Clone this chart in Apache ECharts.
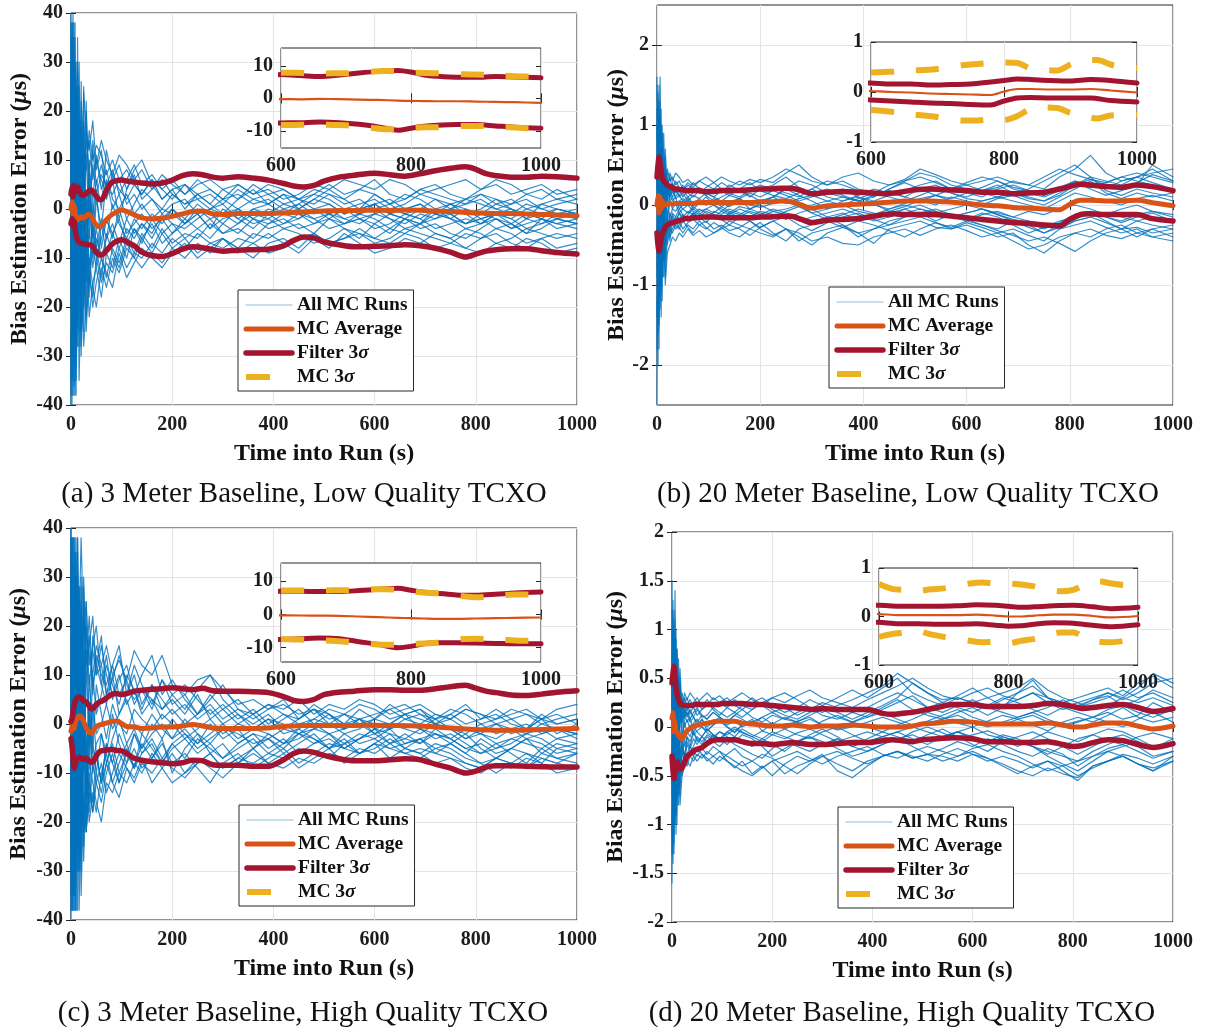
<!DOCTYPE html>
<html><head><meta charset="utf-8">
<script src="https://cdn.jsdelivr.net/npm/echarts@6/dist/echarts.min.js"></script>
<style>html,body{margin:0;padding:0;background:#fff}#c{width:1205px;height:1034px}</style>
</head><body><div id="c"></div><script>
// ---------- time grids ----------
const RUN_T = [0,2,4,6,8,10,13,16,20,25, 30,36,43,50,60,70,82,95,110,125, 140,160,180,200,225,250,275,300,330,360, 390,420,450,480,510,540,570,600,630,660, 690,720,750,780,810,840,870,900,930,960, 1000];
const CURVE_T = [0,2,4,6,8,10,13,16,20,25, 30,35,40,45,50,55,60,70,80,90, 100,110,125,140,160,180,200,220,240,260, 280,300,330,360,390,420,440,460,480,500, 530,560,600,630,660,690,720,750,780,800, 820,840,870,900,930,960,1000];
const MC_T = [600,620,640,660,680,700,720,740,760,780,800,820,840,860,880,900,920,940,960,980,1000];

// ---------- (a) 3 m, low quality ----------
const A_RUNS = [
 [40,-30,35,-20,28,-12,18,-8,14,4, 10,-2,9,3,7,5,8,3,6,9, 5,7,4,6,3,5,6,4,5,3, 4,2,3,5,4,6,5,4,6,5, 3,4,5,6,4,5,3,4,5,3, 4],
 [-40,32,-28,22,-18,15,-10,20,-6,12, -4,8,2,10,6,3,7,4,2,5, 3,6,2,4,5,2,3,1,4,2, 3,4,2,1,3,2,4,3,1,2, 4,3,2,1,3,2,1,3,2,4, 2],
 [20,35,-15,25,-25,10,-18,5,-12,15, -8,5,-10,2,-4,6,0,3,-2,1, 4,2,0,3,1,2,0,2,3,1, 2,0,1,3,2,0,1,2,0,1, 3,2,0,1,2,0,1,2,0,1, 2],
 [-25,-38,18,-30,12,-22,16,-25,4,-15, 3,-12,-4,-10,-6,-2,-5,-8,-4,-6, -3,-5,-1,-3,-4,-2,0,-1,-3,0, 1,-1,0,2,1,-1,0,1,2,0, 1,-1,0,2,1,0,-1,1,0,-1, 0],
 [5,28,-35,15,-20,24,-8,12,-22,8, -14,10,-6,4,-8,-2,-6,0,-5,-3, -1,-4,-2,-5,-3,-1,-4,-2,-1,-3, -2,0,-1,-3,-2,0,-1,1,-1,-2, 0,-1,1,0,-2,-1,0,-2,-1,0, -1],
 [-10,15,-25,35,-12,6,-28,14,-16,2, -18,-4,-12,-6,-10,-14,-8,-11,-6,-9, -5,-8,-4,-7,-5,-6,-3,-5,-4,-6, -3,-2,-4,-3,-1,-2,-3,-1,-2,-4, -3,-2,-1,-3,-2,-4,-3,-1,-2,-3, -2],
 [30,-10,20,-36,22,-28,8,-16,12,-20, 2,-15,-8,-12,-3,-9,-5,-2,-7,-4, -6,-3,-7,-5,-2,-4,-6,-3,-5,-2, -4,-3,-1,-2,-4,-3,-2,-4,-3,-1, -2,-4,-3,-2,-3,-1,-2,-4,-3,-2, -3],
 [-35,10,-20,5,-32,18,-24,2,-30,-6, -22,-14,-18,-10,-15,-11,-13,-8,-12,-9, -10,-7,-9,-6,-8,-5,-7,-6,-8,-5, -6,-4,-5,-7,-6,-4,-5,-6,-4,-5, -3,-5,-6,-4,-5,-7,-6,-4,-5,-6, -5],
 [15,-28,38,-8,30,-5,22,10,18,6, 14,8,12,5,9,4,3,6,1,3, 0,2,-1,1,2,-1,0,1,-2,0, -1,1,0,-2,-1,0,-2,-1,0,-1, -2,0,-1,-3,-2,-1,-2,0,-1,-2, -1],
 [-20,22,-10,12,-38,30,-15,25,-5,18, 10,14,6,11,4,8,2,0,3,-1, 1,-2,0,-1,-3,0,-2,-1,0,-2, -3,-1,-2,0,-1,-3,-2,-3,-1,-2, -3,-1,-2,-3,-1,-2,-4,-3,-2,-3, -4],
 [38,5,25,-28,10,-35,-20,-10,-25,-18, -8,-22,-15,-12,-18,-9,-12,-6,-10,-4, -7,-2,-5,-8,-6,-9,-7,-8,-6,-7, -9,-8,-6,-5,-7,-6,-4,-6,-7,-5, -6,-8,-7,-5,-6,-4,-5,-7,-6,-8, -7],
 [-38,-15,12,28,-5,20,30,-5,22,12, 8,16,10,13,11,7,10,6,8,5, 3,6,4,2,5,3,1,4,2,5, 3,1,2,4,3,1,2,0,1,3, 2,0,1,2,3,1,2,0,1,2, 1],
 [0,38,-30,10,15,-30,5,-35,-15,-28, -20,-10,-16,-20,-12,-16,-10,-13,-8,-10, -12,-9,-11,-8,-10,-7,-9,-6,-8,-10, -7,-6,-8,-5,-7,-6,-5,-7,-6,-4, -5,-6,-7,-8,-6,-5,-7,-8,-6,-5, -6],
 [25,-40,8,-20,35,-2,25,-12,16,-8, 20,4,-2,6,0,12,6,9,4,7, 2,4,6,3,1,3,4,2,0,2, 1,3,2,0,1,-1,0,1,-1,0, 1,-1,-2,0,-1,1,0,-1,-2,0, -1],
 [-5,25,-38,18,-28,12,-22,18,-10,8, -12,6,-4,-8,-2,-6,1,-3,-6,-2, -4,-1,-3,0,-2,1,-1,-3,0,-2, 0,-1,1,-1,0,-2,-1,0,-2,-3, -1,-2,0,-1,-3,-2,-4,-2,-3,-1, -2],
 [35,-18,5,30,-35,8,28,-15,10,-25, -5,-18,2,-8,-14,-5,-9,-12,-7,-10, -6,-9,-5,-3,-6,-4,-2,-5,-3,-1, -2,-4,-3,-5,-2,-4,-6,-3,-5,-2, -4,-3,-5,-6,-4,-2,-3,-5,-4,-2, -3],
 [-30,38,-5,-25,20,-15,35,-28,26,-18, 22,-6,14,8,12,2,6,-2,4,8, 10,5,2,4,0,3,1,-1,2,4, 1,3,0,2,4,2,0,3,1,-1, 0,2,1,-1,0,2,0,-2,1,0, -1],
 [10,-35,28,-38,5,25,-12,8,-28,3, -25,-12,-20,-15,-10,-13,-16,-9,-14,-11, -8,-10,-12,-9,-7,-10,-8,-6,-9,-7, -5,-7,-9,-6,-8,-5,-7,-9,-8,-6, -7,-5,-6,-8,-9,-7,-8,-6,-7,-9, -8],
 [-15,20,40,-12,38,-20,10,30,-2,24, 16,12,18,9,14,10,7,11,9,6, 8,4,7,5,3,6,4,2,5,3, 5,4,2,3,5,3,4,6,3,2, 4,5,3,2,4,6,5,3,4,2, 3],
 [28,8,-22,38,-15,-38,15,-5,-20,25, -15,2,-9,-4,-10,-6,-3,-7,-2,-5, -3,-6,-2,0,-3,-1,-4,0,-2,-4, -1,-3,-2,0,-2,-3,-1,-2,-4,-2, -3,0,-2,-4,-3,-1,-3,-5,-2,-4, -3]
];
const A_AVG = [0,1.5,-1.0,0.8,-0.5,-1.5,-2.2,-2.0,-1.6,-1.9, -1.4,-1.0,-1.5,-2.5,-3.2,-3.6,-3.4,-2.2,-1.2,-0.6, -0.2,-0.5,-1.2,-1.8,-2.0,-1.9,-1.5,-1.0,-0.5,-0.4, -1.0,-1.1,-0.9,-0.9,-0.9,-0.8,-0.7,-0.6,-0.5,-0.4, -0.3,-0.3,-0.25,-0.3,-0.2,-0.25,-0.4,-0.5,-0.7,-0.8, -0.85,-0.9,-0.9,-1.0,-1.1,-1.2,-1.4];
const A_FILT_UP = [3.0,4.5,2.5,4.8,3.5,4.2,4.5,3.8,3.0,2.8, 3.2,3.6,3.9,3.4,2.6,2.0,1.9,3.8,5.4,5.8, 5.9,5.7,5.5,5.3,5.1,5.3,5.9,6.8,7.2,7.0, 6.5,6.3,6.6,6.3,5.9,5.2,4.7,4.5,4.8,5.7, 6.5,6.9,7.3,7.0,6.7,7.2,7.8,8.3,8.6,8.1, 7.2,6.8,6.5,6.5,6.7,6.6,6.3];
const A_FILT_LO = [-3.0,-2.0,-3.5,-2.5,-4.0,-5.5,-6.3,-6.8,-7.0,-7.1, -7.2,-7.3,-7.4,-8.0,-8.8,-9.3,-9.4,-8.5,-7.3,-6.6, -6.3,-6.7,-7.5,-8.8,-9.5,-9.7,-9.1,-8.2,-7.7,-7.9, -8.3,-8.6,-8.4,-8.3,-8.2,-7.5,-6.4,-5.7,-5.9,-6.7, -7.3,-7.7,-7.6,-7.5,-7.3,-7.5,-8.0,-8.8,-9.8,-9.2, -8.6,-8.3,-8.1,-8.1,-8.5,-8.9,-9.2];
const A_MC_UP = [7.9,7.9,7.8,7.6,7.7,7.7,7.9,8.2,8.4,8.3,8.0,7.8,7.7,7.6,7.4,7.3,7.2,7.0,6.8,6.7,6.6];
const A_MC_LO = [-8.2,-8.2,-8.1,-8.1,-8.2,-8.3,-8.6,-9.1,-9.5,-9.5,-9.2,-8.9,-8.9,-8.7,-8.5,-8.5,-8.6,-8.8,-9.0,-9.2,-9.2];

// ---------- (b) 20 m, low quality ----------
const B_RUNS = [
 [1.6,-0.8,1.2,-0.5,0.9,0.3,0.6,0.2,0.45,0.3, 0.35,0.25,0.3,0.2,0.28,0.22,0.3,0.25,0.2,0.28, 0.22,0.3,0.25,0.32,0.28,0.4,0.5,0.35,0.25,0.3, 0.2,0.15,0.25,0.3,0.35,0.28,0.2,0.25,0.18,0.22, 0.3,0.25,0.2,0.35,0.45,0.62,0.4,0.3,0.35,0.45, 0.3],
 [-2.5,1.2,-1.4,0.8,-0.9,0.5,-0.6,0.3,-0.35,-0.1, -0.25,-0.15,-0.2,-0.3,-0.22,-0.18,-0.25,-0.3,-0.22,-0.28, -0.2,-0.25,-0.3,-0.22,-0.35,-0.45,-0.3,-0.25,-0.2,-0.28, -0.35,-0.3,-0.25,-0.2,-0.15,-0.22,-0.3,-0.25,-0.32,-0.4, -0.35,-0.5,-0.6,-0.45,-0.35,-0.4,-0.3,-0.25,-0.35,-0.3, -0.4],
 [0.8,1.4,-1.0,1.0,-0.4,0.7,-0.3,0.4,0.1,0.25, 0.15,0.2,0.1,0.15,0.05,0.12,0.08,0.15,0.1,0.05, 0.12,0.08,0.15,0.1,0.18,0.12,0.05,0.1,0.15,0.2, 0.1,0.05,0.12,0.18,0.25,0.3,0.2,0.15,0.1,0.2, 0.25,0.18,0.12,0.2,0.3,0.25,0.2,0.3,0.35,0.28, 0.2],
 [-1.2,-2.0,0.9,-1.1,0.6,-0.7,0.3,-0.5,-0.2,-0.3, -0.12,-0.2,-0.1,-0.15,-0.08,-0.12,-0.05,-0.1,-0.15,-0.08, -0.12,-0.05,-0.1,-0.15,-0.08,-0.12,-0.2,-0.15,-0.1,-0.05, -0.12,-0.2,-0.15,-0.1,-0.05,-0.1,-0.15,-0.2,-0.12,-0.08, -0.15,-0.2,-0.25,-0.3,-0.2,-0.15,-0.1,-0.15,-0.2,-0.25, -0.3],
 [0.3,0.9,1.5,-0.6,1.0,-0.3,0.5,-0.1,0.3,0.1, 0.18,0.08,0.12,0.05,0.1,0.02,0.08,0.0,0.05,-0.02, 0.04,0.08,0.0,0.05,0.1,0.02,0.08,0.12,0.05,0.0, 0.08,0.15,0.1,0.05,0.12,0.2,0.15,0.08,0.05,0.1, 0.15,0.08,0.05,0.12,0.25,0.35,0.18,0.12,0.2,0.15, 0.1],
 [-0.6,0.4,-1.8,0.3,-1.0,0.2,-0.7,-0.2,-0.5,-0.3, -0.35,-0.25,-0.3,-0.2,-0.28,-0.35,-0.25,-0.2,-0.3,-0.25, -0.32,-0.28,-0.2,-0.3,-0.38,-0.3,-0.45,-0.35,-0.3,-0.25, -0.35,-0.48,-0.3,-0.25,-0.2,-0.28,-0.3,-0.22,-0.28,-0.35, -0.3,-0.38,-0.45,-0.3,-0.25,-0.2,-0.28,-0.35,-0.3,-0.4, -0.35],
 [1.2,-1.5,0.6,0.8,-0.8,1.0,0.2,0.5,0.25,0.35, 0.2,0.3,0.22,0.18,0.25,0.2,0.15,0.22,0.28,0.2, 0.15,0.1,0.18,0.25,0.2,0.15,0.1,0.2,0.3,0.25, 0.18,0.1,0.2,0.3,0.4,0.35,0.25,0.2,0.15,0.1, 0.15,0.2,0.3,0.4,0.5,0.35,0.3,0.25,0.35,0.4, 0.45],
 [-1.8,0.2,0.5,-1.3,0.2,-0.9,-0.4,-0.6,-0.3,-0.45, -0.2,-0.3,-0.25,-0.12,-0.18,-0.1,-0.15,-0.08,-0.12,-0.18, -0.1,-0.15,-0.08,-0.12,-0.05,-0.1,-0.15,-0.22,-0.15,-0.1, -0.2,-0.15,-0.1,-0.05,-0.12,-0.08,-0.15,-0.1,-0.05,-0.12, -0.2,-0.28,-0.35,-0.25,-0.18,-0.1,-0.15,-0.22,-0.15,-0.1, -0.2],
 [0.5,1.0,-0.5,1.6,0.4,0.9,0.5,0.2,0.3,0.15, 0.22,0.1,0.18,0.25,0.15,0.1,0.18,0.12,0.05,0.1, 0.15,0.2,0.12,0.05,0.1,0.2,0.3,0.25,0.15,0.1, 0.05,0.1,0.2,0.28,0.2,0.12,0.08,0.15,0.22,0.3, 0.2,0.15,0.1,0.18,0.28,0.2,0.12,0.18,0.25,0.5, 0.35],
 [-0.9,-0.2,-1.2,-0.5,-1.4,-0.3,-0.9,-0.4,-0.2,-0.35, -0.15,-0.25,-0.1,-0.2,-0.12,-0.05,-0.1,-0.18,-0.08,-0.12, -0.05,-0.1,-0.15,-0.08,-0.12,-0.18,-0.1,-0.05,-0.15,-0.25, -0.4,-0.3,-0.2,-0.15,-0.1,-0.05,-0.12,-0.18,-0.1,-0.15, -0.25,-0.35,-0.28,-0.2,-0.15,-0.1,-0.2,-0.3,-0.4,-0.3, -0.25],
 [1.5,0.6,0.2,1.1,-0.2,0.4,0.9,0.1,0.4,0.05, 0.1,0.0,0.05,0.08,0.02,-0.02,0.05,0.0,0.08,0.03, -0.02,0.05,0.0,-0.03,0.02,0.05,-0.02,0.0,0.05,0.1, 0.05,0.0,-0.05,0.02,0.08,0.12,0.05,0.0,0.05,0.1, 0.05,0.0,-0.05,0.05,0.15,0.1,0.05,0.0,0.08,0.12, 0.05],
 [-0.3,-1.0,0.3,-0.8,0.5,-1.2,0.1,-0.9,-0.4,-0.15, -0.05,-0.08,0.0,-0.05,-0.1,-0.02,-0.08,-0.05,0.0,-0.05, -0.1,-0.02,-0.05,0.0,-0.08,-0.05,0.0,-0.1,-0.05,0.0, -0.08,-0.12,-0.05,0.0,-0.05,-0.1,-0.05,0.0,-0.05,-0.1, -0.15,-0.08,-0.12,-0.05,0.0,-0.05,-0.12,-0.05,0.0,-0.08, -0.12],
 [0.0,1.1,-0.7,0.5,1.2,-0.5,0.4,0.7,0.15,0.4, 0.3,0.4,0.35,0.28,0.32,0.25,0.3,0.35,0.28,0.35, 0.3,0.25,0.32,0.28,0.35,0.45,0.38,0.3,0.25,0.35, 0.4,0.3,0.25,0.32,0.45,0.38,0.3,0.25,0.3,0.35, 0.28,0.25,0.35,0.45,0.38,0.32,0.28,0.35,0.4,0.35, 0.28],
 [-1.4,0.8,-0.3,-0.2,-0.6,0.6,-0.2,-1.0,-0.6,-0.5, -0.4,-0.45,-0.35,-0.4,-0.3,-0.38,-0.32,-0.4,-0.35,-0.28, -0.35,-0.4,-0.3,-0.35,-0.4,-0.3,-0.35,-0.45,-0.4,-0.48, -0.5,-0.4,-0.35,-0.3,-0.38,-0.3,-0.25,-0.32,-0.4,-0.35, -0.45,-0.55,-0.5,-0.4,-0.35,-0.3,-0.38,-0.42,-0.35,-0.4, -0.45],
 [-0.8,1.3,-0.4,0.9,-1.1,0.5,-0.3,0.6,-0.2,0.15, 0.05,0.1,-0.05,0.0,0.08,-0.05,0.02,0.1,0.0,-0.08, 0.0,0.08,-0.05,0.02,0.1,0.2,0.12,0.05,-0.05,0.05, 0.1,0.02,-0.08,-0.02,0.06,0.0,0.1,0.05,0.0,0.08, 0.12,0.05,0.0,0.1,0.2,0.3,0.15,0.08,0.15,0.1, 0.15],
 [1.0,-1.6,0.7,-0.3,0.4,-0.8,0.5,-0.3,0.2,-0.25, -0.1,-0.15,-0.05,-0.12,-0.2,-0.1,-0.15,-0.22,-0.12,-0.18, -0.25,-0.15,-0.2,-0.28,-0.2,-0.15,-0.25,-0.32,-0.22,-0.15, -0.1,-0.18,-0.25,-0.15,-0.1,-0.2,-0.12,-0.18,-0.25,-0.3, -0.2,-0.25,-0.35,-0.28,-0.2,-0.15,-0.22,-0.3,-0.2,-0.15, -0.22],
 [-0.5,0.5,1.1,-1.2,0.8,0.1,-0.5,0.3,0.2,0.1, 0.28,0.15,0.22,0.1,0.18,0.28,0.2,0.12,0.2,0.15, 0.25,0.18,0.1,0.2,0.25,0.35,0.22,0.15,0.2,0.12, 0.05,0.12,0.18,0.1,0.2,0.25,0.15,0.1,0.18,0.25, 0.15,0.1,0.05,0.15,0.25,0.32,0.25,0.2,0.28,0.38, 0.3],
 [0.6,-0.4,-1.5,0.6,-0.3,-0.9,0.2,-0.7,-0.1,-0.4, -0.3,-0.2,-0.28,-0.35,-0.25,-0.3,-0.2,-0.28,-0.35,-0.3, -0.25,-0.3,-0.38,-0.28,-0.2,-0.3,-0.4,-0.5,-0.35,-0.28, -0.2,-0.25,-0.32,-0.4,-0.3,-0.22,-0.28,-0.2,-0.25,-0.32, -0.38,-0.45,-0.4,-0.48,-0.58,-0.45,-0.35,-0.3,-0.28,-0.35, -0.3],
 [0.2,0.7,-0.9,1.3,-0.6,0.6,-0.4,0.3,0.05,0.2, 0.1,0.18,0.12,0.2,0.1,0.15,0.22,0.15,0.1,0.18, 0.12,0.2,0.28,0.18,0.12,0.08,0.15,0.2,0.1,0.05, 0.12,0.2,0.15,0.1,0.05,0.12,0.2,0.28,0.35,0.3, 0.22,0.18,0.12,0.22,0.3,0.22,0.28,0.35,0.3,0.25, 0.2],
 [-0.4,-0.9,0.6,-0.4,0.9,-0.5,0.3,-0.2,-0.15,0.05, -0.05,0.02,-0.1,-0.05,0.0,-0.08,-0.12,-0.05,-0.1,-0.02, -0.08,-0.12,-0.05,-0.1,-0.15,-0.08,-0.02,-0.1,-0.18,-0.12, -0.05,-0.1,-0.15,-0.05,0.0,-0.08,-0.15,-0.1,-0.05,-0.12, -0.18,-0.22,-0.3,-0.22,-0.12,-0.08,-0.15,-0.2,-0.12,-0.08, -0.15]
];
const B_AVG = [0.0,0.12,-0.1,0.1,-0.05,0.05,0.0,0.0,0.01,0.02, 0.01,0.02,0.02,0.02,0.02,0.02,0.02,0.02,0.03,0.03, 0.03,0.03,0.03,0.03,0.03,0.03,0.04,0.04,0.05,0.04, 0.0,-0.04,-0.01,0.0,0.01,0.02,0.03,0.04,0.05,0.05, 0.05,0.04,0.02,0.0,-0.01,-0.03,-0.04,-0.05,-0.06,0.01, 0.06,0.06,0.05,0.05,0.06,0.03,-0.01];
const B_FILT_UP = [0.35,0.5,0.6,0.5,0.42,0.35,0.3,0.28,0.25,0.23, 0.22,0.2,0.2,0.19,0.19,0.18,0.18,0.18,0.18,0.17, 0.17,0.17,0.18,0.18,0.18,0.19,0.2,0.2,0.21,0.21, 0.18,0.14,0.16,0.17,0.16,0.15,0.14,0.15,0.17,0.19, 0.2,0.19,0.18,0.16,0.16,0.14,0.15,0.16,0.2,0.23, 0.26,0.25,0.23,0.22,0.25,0.23,0.18];
const B_FILT_LO = [-0.35,-0.5,-0.58,-0.5,-0.42,-0.36,-0.32,-0.28,-0.25,-0.23, -0.22,-0.21,-0.2,-0.19,-0.18,-0.17,-0.17,-0.16,-0.16,-0.15, -0.15,-0.15,-0.16,-0.16,-0.16,-0.16,-0.15,-0.15,-0.14,-0.14, -0.18,-0.22,-0.19,-0.18,-0.17,-0.14,-0.12,-0.11,-0.12,-0.12, -0.12,-0.13,-0.16,-0.18,-0.2,-0.22,-0.23,-0.25,-0.26,-0.18, -0.12,-0.11,-0.12,-0.12,-0.12,-0.17,-0.2];
const B_MC_UP = [0.39,0.4,0.41,0.43,0.44,0.46,0.5,0.54,0.56,0.58,0.59,0.58,0.47,0.44,0.43,0.55,0.64,0.64,0.55,0.49,0.48];
const B_MC_LO = [-0.36,-0.38,-0.41,-0.45,-0.47,-0.5,-0.55,-0.57,-0.57,-0.55,-0.56,-0.48,-0.34,-0.31,-0.32,-0.42,-0.48,-0.53,-0.47,-0.46,-0.46];

// ---------- (c) 3 m, high quality ----------
const C_RUNS = [
 [40,-25,38,-10,30,-20,38,12,25,5, 20,8,15,10,12,16,10,13,9,15, 12,10,14,8,6,9,10,7,4,5, 3,4,2,3,1,2,4,3,1,2, 3,1,2,0,1,2,0,-1,1,0, 1],
 [-40,30,-25,20,-38,15,-30,-8,-35,-15, -22,-10,-18,-12,-8,-14,-10,-6,-9,-12, -8,-10,-7,-9,-11,-8,-6,-9,-7,-8, -6,-7,-5,-6,-4,-5,-6,-4,-5,-6, -7,-5,-6,-8,-9,-7,-8,-6,-7,-8, -9],
 [25,38,-15,30,-8,35,10,28,15,22, 12,18,6,14,10,8,12,6,9,4, 7,5,3,6,8,5,2,4,1,3, 0,2,1,3,2,0,1,2,3,1, 0,2,1,3,2,0,1,2,0,1, 2],
 [-30,-10,20,-35,18,-25,5,-38,-10,-25, -5,-18,-8,-12,-16,-10,-6,-12,-8,-5, -9,-7,-4,-8,-6,-9,-12,-8,-6,-9, -7,-5,-8,-6,-7,-4,-6,-5,-3,-5, -6,-4,-5,-7,-8,-10,-8,-9,-7,-8, -6],
 [10,-38,28,5,-20,30,-15,18,-28,10, -12,4,-6,8,2,-3,4,0,-2,3, 1,-1,2,0,-3,-1,1,-2,0,-1, 1,-2,-1,1,0,-1,1,0,-1,1, 2,0,1,-1,-2,0,-1,-3,-2,-1, -2],
 [-15,20,-38,25,10,-30,22,-12,30,-5, 15,-8,10,2,6,12,8,4,10,7, 3,8,5,2,4,1,3,0,2,-1, 1,0,-2,-1,0,-2,-1,1,0,-1, -2,0,-1,-3,-2,-4,-3,-2,-1,-3, -2],
 [35,10,-30,15,-35,20,-10,25,-18,15, -22,-12,-16,-6,-12,-8,-4,-10,-6,-2, -6,-4,-8,-5,-3,-6,-4,-7,-5,-3, -6,-4,-2,-4,-3,-5,-3,-2,-4,-3, -1,-3,-2,-4,-6,-5,-3,-4,-5,-3, -4],
 [-38,25,5,-20,35,-5,18,-22,5,-28, -10,-20,-14,-18,-10,-6,-12,-8,-4,-9, -6,-3,-7,-4,-2,-5,-3,-1,-4,-2, -3,-1,-2,0,-2,-1,0,-2,-1,0, -1,-2,-3,-1,-2,-3,-1,-2,0,-1, -2],
 [18,-30,30,-38,25,-15,35,5,20,-10, 8,16,22,10,16,10,6,10,4,7, 2,5,1,3,0,2,4,1,3,2, 4,2,0,1,3,2,0,1,3,4, 2,1,3,2,0,1,2,3,1,2, 0],
 [-25,15,-35,38,-28,5,-25,10,-20,12, -6,2,-8,-4,-2,-8,-3,1,-4,-1, -5,-2,0,-3,-1,-4,-2,0,-3,-1, -2,-4,-3,-1,-2,-4,-3,-1,-2,-3, -4,-2,-3,-5,-4,-6,-5,-3,-4,-6, -5],
 [40,-5,10,-25,38,-38,8,-30,-12,-22, -18,-8,-12,-16,-20,-12,-14,-10,-12,-8, -10,-6,-9,-12,-10,-7,-9,-11,-8,-6, -8,-9,-7,-8,-6,-7,-5,-6,-4,-6, -5,-6,-7,-8,-9,-7,-8,-9,-6,-7, -8],
 [-10,38,-20,12,-15,25,30,20,38,18, 25,12,16,20,8,14,5,9,12,6, 10,14,6,9,5,2,6,3,5,2, 4,3,5,2,4,3,5,4,2,3, 4,2,1,3,2,1,3,2,1,3, 4],
 [5,-18,15,-30,5,12,-38,0,-25,2, -15,-5,4,-2,0,4,-1,2,5,0, -2,2,-1,-3,1,-2,-4,-1,-2,-4, -3,-5,-2,-3,-5,-4,-2,-3,-5,-4, -3,-5,-4,-6,-8,-7,-5,-6,-8,-5, -6],
 [30,-38,22,8,-10,-20,15,-18,2,30, 12,22,8,12,18,6,12,16,6,12, 8,4,9,6,3,7,10,5,2,0, 2,-1,1,3,0,2,1,-1,0,2, 1,0,-1,-2,0,-2,-1,0,-2,-1, -3],
 [-5,30,-38,15,-25,38,-12,20,-8,28, -14,10,-4,-10,-2,-6,2,-4,-8,-2, -5,0,-3,1,-2,-4,0,-3,-1,-5, -2,-4,-1,-3,-5,-2,-4,-3,-1,-4, -3,-2,-4,-6,-3,-5,-4,-2,-3,-5, -4],
 [38,-20,5,32,-38,10,25,-30,12,-22, -2,-16,3,-6,-12,-4,-8,-12,-5,-9, -4,-7,-3,-10,-5,-2,-6,-4,-8,-5, -3,-6,-4,-2,-5,-3,-6,-4,-2,-5, -3,-6,-4,-2,-5,-7,-5,-3,-6,-4, -5],
 [-35,38,-8,-28,22,-12,38,-25,28,-15, 25,-4,18,12,8,4,10,2,6,10, 4,8,3,5,2,6,1,3,0,2, -1,1,3,0,2,-1,1,-2,0,2, -1,1,-1,-3,-1,0,-2,-1,1,-2, 0],
 [12,-38,30,-35,8,28,-15,10,-30,5, -22,-14,-18,-10,-14,-8,-12,-15,-9,-11, -7,-12,-9,-6,-10,-8,-6,-9,-7,-5, -8,-6,-9,-7,-5,-8,-6,-4,-7,-5, -6,-8,-7,-9,-10,-8,-9,-7,-8,-10, -9],
 [-18,22,38,-10,35,-22,12,28,0,25, 18,14,10,16,12,6,9,14,8,5, 7,3,9,4,6,2,5,8,3,1, 3,5,1,4,2,0,3,1,4,2, 3,0,2,4,1,3,1,-1,2,0, 1],
 [30,10,-25,38,-18,-38,12,-8,-22,20, -18,0,-10,-6,-12,-4,-8,-2,-6,-9, -2,-5,-8,-4,-7,-3,-5,-7,-4,-2, -5,-3,-6,-4,-2,-5,-3,-1,-4,-2, -4,-1,-3,-5,-6,-4,-6,-8,-5,-7, -6]
];
const C_AVG = [-1.5,-0.5,0.5,-1.0,0.2,0.8,1.2,1.7,1.5,0.5, -0.8,-1.6,-1.9,-1.2,-0.5,-0.2,-0.1,0.2,0.5,0.6, 0.1,-0.5,-0.6,-0.9,-0.8,-0.6,-0.6,-0.4,-0.1,-0.4, -0.8,-0.9,-0.9,-0.9,-0.8,-0.5,-0.4,-0.3,-0.3,-0.3, -0.3,-0.3,-0.25,-0.3,-0.35,-0.4,-0.6,-0.8,-1.0,-1.1, -1.2,-1.3,-1.3,-1.2,-1.1,-1.0,-0.9];
const C_FILT_UP = [0.5,1.0,2.5,3.8,4.5,5.0,5.4,5.5,5.3,4.7, 4.5,3.8,3.1,3.3,4.0,4.4,4.6,5.3,6.0,6.2, 6.0,6.2,6.7,6.9,7.1,7.2,7.4,7.2,7.0,7.3, 6.8,6.7,6.7,6.6,6.4,5.6,4.8,4.6,5.0,6.0, 6.5,6.7,7.0,7.0,6.9,6.9,7.2,7.6,7.9,7.3, 6.7,6.4,5.9,5.8,6.1,6.5,6.8];
const C_FILT_LO = [-3.0,-4.5,-7.0,-9.0,-8.5,-7.5,-7.0,-6.8,-7.0,-7.2, -7.0,-7.5,-7.8,-7.5,-6.5,-5.8,-5.5,-5.3,-5.2,-5.4, -5.5,-6.0,-7.0,-7.4,-7.7,-7.9,-8.1,-7.9,-7.4,-7.5, -8.3,-8.4,-8.4,-8.6,-8.6,-7.3,-6.0,-5.5,-5.8,-6.4, -7.1,-7.5,-7.5,-7.3,-7.1,-7.3,-8.2,-9.0,-10.0,-9.6, -8.8,-8.5,-8.5,-8.6,-8.7,-8.8,-8.8];
const C_MC_UP = [7.2,7.2,7.2,7.2,7.3,7.3,7.4,7.6,7.6,7.4,7.0,6.6,6.4,6.0,5.5,5.2,5.4,5.8,6.0,6.0,6.0];
const C_MC_LO = [-7.4,-7.5,-7.6,-7.8,-7.9,-8.2,-8.6,-8.9,-9.1,-9.1,-8.9,-8.7,-8.5,-8.0,-7.4,-7.3,-7.4,-7.6,-7.8,-7.9,-7.8];

// ---------- (d) 20 m, high quality ----------
const D_RUNS = [
 [1.5,-0.9,1.0,-0.4,0.7,0.2,0.5,0.15,0.35,0.25, 0.3,0.2,0.25,0.3,0.22,0.28,0.2,0.25,0.3,0.22, 0.18,0.25,0.3,0.22,0.15,0.2,0.28,0.22,0.3,0.38, 0.3,0.4,0.5,0.35,0.28,0.22,0.3,0.25,0.2,0.28, 0.35,0.42,0.3,0.25,0.2,0.28,0.35,0.3,0.4,0.55, 0.45],
 [-1.6,1.0,-1.1,0.6,-0.8,0.3,-0.6,-0.2,-0.4,-0.3, -0.35,-0.25,-0.3,-0.22,-0.28,-0.35,-0.3,-0.25,-0.35,-0.42, -0.35,-0.48,-0.4,-0.5,-0.38,-0.3,-0.35,-0.28,-0.45,-0.52, -0.4,-0.3,-0.25,-0.32,-0.28,-0.35,-0.3,-0.25,-0.32,-0.4, -0.48,-0.4,-0.35,-0.45,-0.55,-0.4,-0.35,-0.3,-0.38,-0.45, -0.35],
 [0.6,1.3,-0.5,0.9,-0.3,0.6,0.0,0.35,0.1,0.2, 0.12,0.18,0.1,0.05,0.12,0.08,0.15,0.1,0.05,0.12, 0.08,0.02,0.1,0.15,0.08,0.05,0.12,0.18,0.1,0.05, 0.12,0.2,0.28,0.18,0.12,0.08,0.15,0.2,0.12,0.2, 0.35,0.48,0.3,0.2,0.15,0.1,0.18,0.22,0.15,0.1, 0.18],
 [-0.9,-1.4,0.7,-0.9,0.4,-0.6,0.2,-0.45,-0.2,-0.3, -0.15,-0.22,-0.12,-0.18,-0.1,-0.15,-0.08,-0.12,-0.18,-0.1, -0.15,-0.2,-0.12,-0.18,-0.25,-0.15,-0.1,-0.18,-0.12,-0.2, -0.15,-0.1,-0.05,-0.12,-0.18,-0.1,-0.05,-0.12,-0.18,-0.1, -0.15,-0.2,-0.25,-0.3,-0.35,-0.25,-0.18,-0.12,-0.2,-0.3, -0.25],
 [0.2,0.8,1.2,-0.5,0.9,-0.2,0.5,0.0,0.25,0.1, 0.15,0.05,0.1,0.02,0.08,0.0,0.05,0.1,0.02,0.06, 0.0,0.05,0.1,0.03,0.0,0.06,0.1,0.02,-0.02,0.05, 0.1,0.15,0.08,0.02,0.06,0.12,0.18,0.1,0.05,0.02, 0.08,0.12,0.05,0.0,0.05,0.1,0.15,0.08,0.12,0.25, 0.15],
 [-0.4,0.3,-1.3,0.2,-0.9,0.1,-0.7,-0.3,-0.5,-0.35, -0.4,-0.3,-0.35,-0.28,-0.32,-0.25,-0.3,-0.35,-0.28,-0.22, -0.3,-0.35,-0.42,-0.35,-0.3,-0.25,-0.32,-0.38,-0.3,-0.25, -0.2,-0.28,-0.32,-0.25,-0.2,-0.25,-0.3,-0.22,-0.18,-0.25, -0.3,-0.38,-0.45,-0.4,-0.35,-0.3,-0.25,-0.3,-0.38,-0.45, -0.3],
 [1.0,-1.2,0.5,0.7,-0.6,0.8,0.1,0.45,0.2,0.3, 0.22,0.28,0.2,0.25,0.18,0.22,0.3,0.25,0.2,0.28, 0.22,0.18,0.25,0.3,0.35,0.28,0.2,0.15,0.22,0.28, 0.35,0.42,0.55,0.45,0.35,0.28,0.3,0.25,0.3,0.35, 0.4,0.5,0.38,0.3,0.25,0.3,0.35,0.28,0.35,0.45, 0.5],
 [-1.3,0.1,0.4,-1.0,0.1,-0.7,-0.3,-0.5,-0.25,-0.35, -0.18,-0.25,-0.2,-0.1,-0.15,-0.08,-0.12,-0.05,-0.1,-0.15, -0.08,-0.12,-0.2,-0.3,-0.22,-0.15,-0.1,-0.15,-0.22,-0.3, -0.25,-0.18,-0.12,-0.08,-0.15,-0.1,-0.05,-0.1,-0.15,-0.08, -0.12,-0.2,-0.3,-0.38,-0.45,-0.35,-0.25,-0.2,-0.15,-0.22, -0.18],
 [0.4,0.9,-0.4,1.4,0.3,0.8,0.4,0.15,0.3,0.12, 0.2,0.08,0.15,0.2,0.12,0.08,0.15,0.1,0.05,0.12, 0.18,0.1,0.05,0.12,0.08,0.15,0.2,0.12,0.08,0.15, 0.1,0.18,0.25,0.32,0.2,0.15,0.22,0.28,0.2,0.15, 0.1,0.15,0.2,0.28,0.2,0.25,0.3,0.38,0.3,0.35, 0.25],
 [-0.7,-0.1,-1.0,-0.4,-1.1,-0.2,-0.8,-0.3,-0.15,-0.3, -0.1,-0.2,-0.05,-0.15,-0.1,-0.02,-0.08,-0.15,-0.05,-0.1, -0.02,-0.08,-0.12,-0.05,-0.1,-0.15,-0.08,-0.02,-0.1,-0.2, -0.12,-0.05,-0.1,-0.15,-0.08,-0.02,-0.1,-0.18,-0.25,-0.15, -0.1,-0.05,-0.12,-0.2,-0.28,-0.2,-0.12,-0.08,-0.15,-0.22, -0.12],
 [1.2,0.5,0.1,0.9,-0.2,0.3,0.7,0.05,0.3,0.0, 0.08,-0.02,0.04,0.08,0.0,-0.04,0.02,0.06,0.0,-0.05, 0.02,0.06,0.0,0.04,-0.02,0.03,0.08,0.02,-0.03,0.0, 0.05,0.1,0.05,0.0,0.04,0.08,0.12,0.05,0.0,0.05, 0.1,0.15,0.08,0.02,0.06,0.1,0.05,0.0,0.08,0.15, 0.05],
 [-0.2,-0.8,0.2,-0.6,0.4,-1.0,0.1,-0.7,-0.3,-0.12, -0.05,-0.1,0.0,-0.05,-0.1,-0.02,-0.08,-0.12,-0.05,0.0, -0.05,-0.1,-0.15,-0.08,-0.02,-0.08,-0.12,-0.05,0.0,-0.08, -0.15,-0.1,-0.05,0.0,-0.05,-0.1,-0.05,0.0,-0.08,-0.12, -0.2,-0.12,-0.05,-0.1,-0.15,-0.08,-0.02,-0.05,-0.12,-0.2, -0.15],
 [0.1,0.9,-0.6,0.4,1.0,-0.4,0.3,0.6,0.15,0.35, 0.28,0.35,0.3,0.25,0.3,0.35,0.28,0.32,0.25,0.3, 0.35,0.28,0.22,0.3,0.25,0.32,0.38,0.3,0.25,0.2, 0.28,0.35,0.42,0.5,0.4,0.32,0.28,0.35,0.4,0.32, 0.28,0.35,0.3,0.25,0.3,0.35,0.4,0.32,0.45,0.52, 0.4],
 [-1.1,0.6,-0.2,-0.3,-0.5,0.4,-0.3,-0.8,-0.5,-0.4, -0.35,-0.4,-0.3,-0.35,-0.28,-0.32,-0.38,-0.3,-0.35,-0.4, -0.45,-0.5,-0.42,-0.35,-0.48,-0.4,-0.35,-0.3,-0.38,-0.45, -0.35,-0.3,-0.25,-0.32,-0.28,-0.3,-0.35,-0.28,-0.32,-0.38, -0.45,-0.5,-0.42,-0.48,-0.52,-0.4,-0.35,-0.3,-0.38,-0.42, -0.35],
 [-0.6,1.1,-0.3,0.7,-0.9,0.4,-0.2,0.5,-0.15,0.12, 0.05,0.1,-0.05,0.0,0.08,-0.04,0.02,0.08,0.0,-0.06, 0.02,0.08,-0.04,0.03,0.1,0.05,-0.02,0.06,0.12,0.05, 0.0,-0.05,0.02,0.08,0.15,0.1,0.04,0.0,0.06,0.12, 0.08,0.02,-0.04,0.05,0.1,0.05,0.12,0.2,0.1,0.05, 0.1],
 [0.8,-1.3,0.6,-0.2,0.3,-0.7,0.4,-0.25,0.15,-0.2, -0.1,-0.15,-0.05,-0.12,-0.18,-0.1,-0.15,-0.2,-0.12,-0.18, -0.22,-0.28,-0.32,-0.22,-0.15,-0.2,-0.25,-0.18,-0.12,-0.2, -0.25,-0.18,-0.12,-0.2,-0.28,-0.22,-0.15,-0.2,-0.12,-0.18, -0.25,-0.3,-0.22,-0.28,-0.4,-0.3,-0.22,-0.18,-0.25,-0.32, -0.25],
 [-0.4,0.4,0.9,-1.0,0.6,0.1,-0.4,0.25,0.15,0.1, 0.22,0.15,0.2,0.12,0.18,0.25,0.18,0.12,0.2,0.15, 0.22,0.3,0.22,0.15,0.2,0.12,0.18,0.25,0.2,0.15, 0.2,0.28,0.35,0.28,0.2,0.25,0.32,0.4,0.3,0.22, 0.28,0.35,0.25,0.18,0.22,0.28,0.32,0.22,0.28,0.38, 0.3],
 [0.5,-0.3,-1.2,0.5,-0.2,-0.8,0.2,-0.6,-0.1,-0.35, -0.28,-0.2,-0.25,-0.3,-0.22,-0.28,-0.2,-0.25,-0.3,-0.35, -0.4,-0.35,-0.28,-0.32,-0.4,-0.48,-0.38,-0.3,-0.25,-0.32, -0.38,-0.3,-0.25,-0.3,-0.35,-0.28,-0.22,-0.28,-0.35,-0.3, -0.35,-0.42,-0.35,-0.4,-0.5,-0.42,-0.35,-0.28,-0.32,-0.38, -0.3],
 [0.2,0.6,-0.7,1.1,-0.5,0.5,-0.3,0.3,0.05,0.18, 0.1,0.15,0.1,0.18,0.1,0.12,0.2,0.15,0.1,0.15, 0.1,0.18,0.25,0.18,0.12,0.08,0.15,0.22,0.15,0.08, 0.15,0.22,0.3,0.45,0.35,0.25,0.2,0.15,0.22,0.3, 0.25,0.18,0.12,0.2,0.25,0.18,0.22,0.3,0.25,0.3, 0.22],
 [-0.3,-0.7,0.5,-0.3,0.7,-0.4,0.2,-0.15,-0.12,0.04, -0.05,0.02,-0.08,-0.04,0.0,-0.06,-0.1,-0.05,-0.08,-0.02, -0.06,-0.1,-0.04,-0.08,-0.12,-0.06,-0.02,-0.08,-0.15,-0.1, -0.05,-0.1,-0.14,-0.05,0.0,-0.06,-0.12,-0.08,-0.04,-0.1, -0.15,-0.2,-0.28,-0.2,-0.12,-0.08,-0.14,-0.18,-0.1,-0.06, -0.12]
];
const D_AVG = [0.09,0.15,-0.05,0.05,-0.05,-0.05,-0.08,-0.11,-0.12,-0.08, -0.04,-0.02,0.0,0.01,0.02,0.02,0.03,0.04,0.05,0.06, 0.06,0.06,0.06,0.04,0.03,0.02,0.01,0.01,0.02,0.01, 0.0,0.01,0.01,0.02,0.01,0.0,0.0,0.0,0.01,0.03, 0.04,0.06,0.05,0.03,0.03,0.03,0.03,0.04,0.02,0.0, 0.0,0.02,0.04,0.04,0.01,-0.02,0.01];
const D_FILT_UP = [0.45,0.55,0.62,0.5,0.4,0.34,0.28,0.24,0.23,0.22, 0.22,0.22,0.22,0.23,0.23,0.23,0.23,0.23,0.23,0.23, 0.24,0.24,0.24,0.24,0.23,0.23,0.22,0.21,0.2,0.19, 0.18,0.19,0.18,0.18,0.18,0.14,0.13,0.14,0.15,0.17, 0.2,0.23,0.23,0.21,0.21,0.21,0.22,0.24,0.23,0.21, 0.19,0.2,0.22,0.23,0.2,0.16,0.19];
const D_FILT_LO = [-0.3,-0.45,-0.53,-0.45,-0.38,-0.36,-0.4,-0.43,-0.42,-0.36, -0.3,-0.28,-0.26,-0.24,-0.23,-0.22,-0.21,-0.17,-0.14,-0.13, -0.13,-0.13,-0.13,-0.15,-0.17,-0.17,-0.18,-0.17,-0.16,-0.17, -0.18,-0.18,-0.17,-0.16,-0.16,-0.14,-0.13,-0.14,-0.15,-0.13, -0.12,-0.11,-0.12,-0.15,-0.15,-0.16,-0.16,-0.15,-0.18,-0.2, -0.19,-0.16,-0.13,-0.14,-0.18,-0.21,-0.17];
const D_MC_UP = [0.67,0.57,0.55,0.53,0.56,0.58,0.62,0.68,0.7,0.68,0.68,0.66,0.62,0.55,0.52,0.55,0.66,0.72,0.68,0.65,0.65];
const D_MC_LO = [-0.42,-0.36,-0.33,-0.3,-0.37,-0.42,-0.46,-0.5,-0.53,-0.52,-0.55,-0.5,-0.46,-0.38,-0.33,-0.33,-0.45,-0.52,-0.53,-0.5,-0.45];

// ---------- text ----------
const CAPTIONS = ['(a) 3 Meter Baseline, Low Quality TCXO','(b) 20 Meter Baseline, Low Quality TCXO','(c) 3 Meter Baseline, High Quality TCXO','(d) 20 Meter Baseline, High Quality TCXO'];
const X_TITLE = 'Time into Run (s)';
const Y_TITLE = 'Bias Estimation Error ({i|\u03bc}s)';
const LEGEND_NAMES = ['All MC Runs','MC Average','Filter 3\u03c3','MC 3\u03c3'];

// ---------- styling / build ----------
const FONT = "'Liberation Serif','Times New Roman',Times,serif";
const INK = '#262626';
const GRIDC = '#e4e4e4';
const BLUE = 'rgba(0,114,189,0.8)';
const ORANGE = '#D95319', RED = '#A2142F', YELLOW = '#EDB120';

const grid = [], xAxis = [], yAxis = [], series = [], legend = [], graphic = [];

function labStyle(extra){ return Object.assign({fontFamily:FONT, fontSize:20, fontWeight:'bold', color:'#1c1c1c', formatter:function(v){ return String(v); }}, extra||{}); }
function tick(custom){ const t = {show:true, inside:true, length:5, lineStyle:{color:INK, width:1}}; if (custom) t.customValues = custom; return t; }

function addAxes(p){
  const gi = grid.length;
  const z = p.inset ? 6 : 0;
  grid.push({left:p.rect[0], top:p.rect[1], width:p.rect[2], height:p.rect[3], show:true,
    borderColor:INK, borderWidth:1, backgroundColor:p.inset ? '#ffffff' : 'transparent', z:p.inset ? 5 : 0});
  const xb = {gridIndex:gi, type:'value', min:p.x[0], max:p.x[1], interval:p.x[2], z:z};
  const xi = xAxis.length;
  const mainX = Object.assign({}, xb, {position:'bottom', axisLine:{show:false}, axisTick:tick(),
    axisLabel:labStyle({margin:p.inset ? 8 : 10}),
    splitLine:{show:true, lineStyle:{color:GRIDC, width:1}}});
  if (!p.inset) Object.assign(mainX, {name:X_TITLE, nameLocation:'middle', nameGap:37,
    nameTextStyle:{fontFamily:FONT, fontSize:24, fontWeight:'bold', color:'#111'}});
  xAxis.push(mainX);
  xAxis.push(Object.assign({}, xb, {position:'top', axisLine:{show:false}, axisTick:tick(), axisLabel:{show:false}, splitLine:{show:false}}));
  const yb = {gridIndex:gi, type:'value', min:p.y.min, max:p.y.max, z:z};
  if (p.y.interval) yb.interval = p.y.interval;
  const yi = yAxis.length;
  const lab = labStyle({margin:8});
  if (p.y.custom) lab.customValues = p.y.custom;
  const mainY = Object.assign({}, yb, {position:'left', axisLine:{show:false}, axisTick:tick(p.y.custom), axisLabel:lab,
    splitLine:{show:!p.inset, lineStyle:{color:GRIDC, width:1}}});
  if (!p.inset) Object.assign(mainY, {name:Y_TITLE, nameLocation:'middle', nameGap:p.yGap,
    nameTextStyle:{fontFamily:FONT, fontSize:24, fontWeight:'bold', color:'#111',
      rich:{i:{fontFamily:FONT, fontSize:24, fontWeight:'bold', fontStyle:'italic', color:'#111'}}}});
  yAxis.push(mainY);
  yAxis.push(Object.assign({}, yb, {position:'right', axisLine:{show:false}, axisTick:tick(p.y.custom), axisLabel:{show:false}, splitLine:{show:false}}));
  return {xi:xi, yi:yi};
}

function line(ax, ts, vs, name, color, width, z, extra){
  series.push(Object.assign({type:'line', name:name, xAxisIndex:ax.xi, yAxisIndex:ax.yi,
    data: ts.map(function(t,i){ return [t, vs[i]]; }),
    symbol:'none', showSymbol:false, silent:true, animation:false, clip:true, z:z,
    lineStyle:{color:color, width:width, cap:'round', join:'round'}, itemStyle:{color:color}}, extra||{}));
}

function panel(cfg){
  const m = addAxes({rect:cfg.rect, x:[0,1000,200], y:cfg.y, yGap:cfg.yGap});
  cfg.runs.forEach(function(r){ line(m, RUN_T, r, LEGEND_NAMES[0], BLUE, 1.2, 2); });
  line(m, CURVE_T, cfg.avg, LEGEND_NAMES[1], ORANGE, 5, 3, {smooth:0.3});
  line(m, CURVE_T, cfg.up, LEGEND_NAMES[2], RED, 5.5, 4, {smooth:0.3});
  line(m, CURVE_T, cfg.lo, LEGEND_NAMES[2], RED, 5.5, 4, {smooth:0.3});
  const n = addAxes({rect:cfg.inRect, x:[600,1000,200], y:cfg.inY, inset:true});
  line(n, CURVE_T, cfg.avg, LEGEND_NAMES[1], ORANGE, 2.2, 7, {smooth:0.3});
  line(n, CURVE_T, cfg.up, LEGEND_NAMES[2], RED, 5, 8, {smooth:0.3});
  line(n, CURVE_T, cfg.lo, LEGEND_NAMES[2], RED, 5, 8, {smooth:0.3});
  const dash = {smooth:0.3, lineStyle:{color:YELLOW, width:6, type:[23,22], cap:'butt', join:'round'}};
  line(n, MC_T, cfg.mcUp, LEGEND_NAMES[3], YELLOW, 6, 9, dash);
  line(n, MC_T, cfg.mcLo, LEGEND_NAMES[3], YELLOW, 6, 9, dash);
  const hid = {opacity:0, borderWidth:0};
  legend.push({orient:'vertical', left:cfg.leg[0], top:cfg.leg[1], z:12,
    backgroundColor:'#ffffff', borderColor:INK, borderWidth:1, padding:[5,6,4,5],
    itemGap:4, itemWidth:46, itemHeight:14, selectedMode:false, itemStyle:hid,
    textStyle:{fontFamily:FONT, fontSize:19.5, fontWeight:'bold', color:'#111',
      rich:{i:{fontFamily:FONT, fontSize:19.5, fontWeight:'bold', fontStyle:'italic', color:'#111'}}},
    formatter:function(nm){ return nm.replace('\u03c3','{i|\u03c3}'); },
    data:[
      {name:LEGEND_NAMES[0], itemStyle:hid, lineStyle:{color:'rgba(0,114,189,0.45)', width:1.2}},
      {name:LEGEND_NAMES[1], itemStyle:hid, lineStyle:{color:ORANGE, width:5}},
      {name:LEGEND_NAMES[2], itemStyle:hid, lineStyle:{color:RED, width:5.5}},
      {name:LEGEND_NAMES[3], itemStyle:hid, lineStyle:{color:YELLOW, width:6, type:[24,40]}}
    ]});
  graphic.push({type:'text', x:cfg.cap[0], y:cfg.cap[1], z:20, silent:true,
    style:{text:cfg.caption, fontFamily:FONT, fontSize:29, fill:'#111', align:'center', verticalAlign:'middle'}});
}

panel({rect:[71,13,506,392], y:{min:-40,max:40,interval:10}, yGap:39, runs:A_RUNS, avg:A_AVG, up:A_FILT_UP, lo:A_FILT_LO,
  inRect:[281,48,260,100], inY:{min:-15.3,max:15.5,custom:[-10,0,10]}, mcUp:A_MC_UP, mcLo:A_MC_LO,
  leg:[238,290], cap:[304,494], caption:CAPTIONS[0]});
panel({rect:[657,5,516,400], y:{min:-2.5,max:2.5,custom:[-2,-1,0,1,2]}, yGap:28, runs:B_RUNS, avg:B_AVG, up:B_FILT_UP, lo:B_FILT_LO,
  inRect:[871,42,266,100], inY:{min:-1,max:1,interval:1}, mcUp:B_MC_UP, mcLo:B_MC_LO,
  leg:[829,287], cap:[908,494], caption:CAPTIONS[1]});
panel({rect:[71,528,506,392], y:{min:-40,max:40,interval:10}, yGap:40, runs:C_RUNS, avg:C_AVG, up:C_FILT_UP, lo:C_FILT_LO,
  inRect:[281,563,260,99], inY:{min:-14.3,max:15.5,custom:[-10,0,10]}, mcUp:C_MC_UP, mcLo:C_MC_LO,
  leg:[239,805], cap:[303,1013], caption:CAPTIONS[2]});
panel({rect:[672,532,501,390], y:{min:-2,max:2,interval:0.5}, yGap:44, runs:D_RUNS, avg:D_AVG, up:D_FILT_UP, lo:D_FILT_LO,
  inRect:[879,568,259,97], inY:{min:-1,max:1,interval:1}, mcUp:D_MC_UP, mcLo:D_MC_LO,
  leg:[838,807], cap:[902,1013], caption:CAPTIONS[3]});

const chart = echarts.init(document.getElementById('c'), null, {renderer:'canvas', width:1205, height:1034});
chart.setOption({animation:false, backgroundColor:'#ffffff', grid:grid, xAxis:xAxis, yAxis:yAxis, series:series, legend:legend, graphic:graphic});
</script></body></html>
